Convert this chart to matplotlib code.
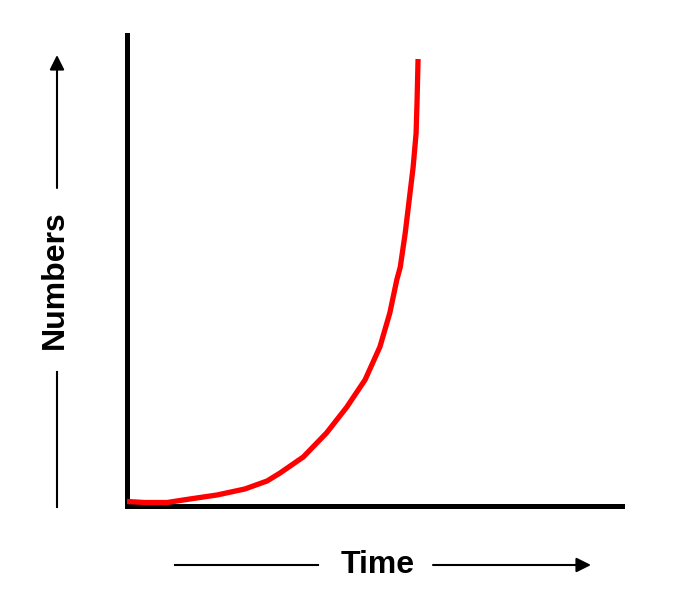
import matplotlib.pyplot as plt

# growth curve (time 0..10, numbers 0..100)
time = [0.0, 0.36, 0.81, 1.27, 1.82, 2.38, 2.83, 3.09, 3.56, 4.03, 4.44,
        4.81, 5.11, 5.31, 5.45, 5.52, 5.62, 5.70, 5.78, 5.84, 5.86, 5.88]
numbers = [0.96, 0.74, 0.74, 1.49, 2.34, 3.61, 5.31, 6.99, 10.4, 15.5, 21.0,
           26.8, 33.8, 41.0, 48.0, 50.7, 57.9, 64.9, 71.9, 79.1, 86.0, 94.9]

x_label = "Time"
y_label = "Numbers"

plt.rcParams['font.family'] = ['Liberation Sans', 'DejaVu Sans']

fig = plt.figure(figsize=(6.8, 6.0), dpi=100)
W, H = 680, 600
# axes box: left 127, right 622, top 35, bottom 506 (pixels)
ax = fig.add_axes([127 / W, 1 - 506 / H, (622 - 127) / W, (506 - 35) / H])
ax.plot(time, numbers, color='#ff0000', linewidth=3.8,
        solid_joinstyle='round', solid_capstyle='butt', zorder=3)
ax.set_xlim(0, 10)
ax.set_ylim(0, 100)
ax.set_xticks([])
ax.set_yticks([])
for s in ['top', 'right']:
    ax.spines[s].set_visible(False)
for s in ['left', 'bottom']:
    ax.spines[s].set_linewidth(3.6)
    ax.spines[s].set_color('black')
    ax.spines[s].set_capstyle('projecting')


def px(x, y):
    return (x / W, 1 - y / H)


# x label with arrow
fig.text(*px(378, 565), x_label, ha='center', va='center',
         fontsize=23, fontweight='bold')
fig.add_artist(plt.Line2D([175 / W, 318 / W], [1 - 565 / H] * 2,
                          color='black', linewidth=1.5))
ax.annotate('', xy=px(591, 565), xytext=px(433, 565),
            xycoords='figure fraction', textcoords='figure fraction',
            arrowprops=dict(arrowstyle='-|>', color='black', lw=1.5,
                            mutation_scale=22, shrinkA=0, shrinkB=0))

# y label with arrow
fig.text(*px(55, 280), y_label, ha='center', va='center', rotation=90,
         fontsize=23, fontweight='bold')
fig.add_artist(plt.Line2D([57 / W] * 2, [1 - 372 / H, 1 - 507 / H],
                          color='black', linewidth=1.5))
ax.annotate('', xy=px(57, 55), xytext=px(57, 188),
            xycoords='figure fraction', textcoords='figure fraction',
            arrowprops=dict(arrowstyle='-|>', color='black', lw=1.5,
                            mutation_scale=22, shrinkA=0, shrinkB=0))

fig.savefig('out.png', dpi=100)
